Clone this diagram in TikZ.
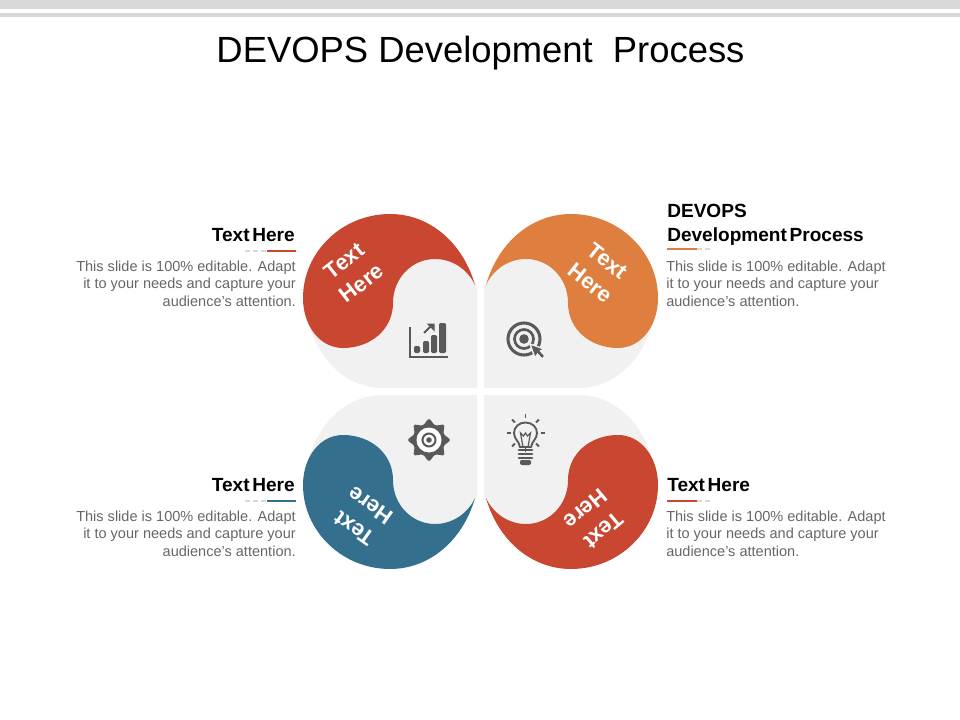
\documentclass[tikz,border=0pt]{standalone}
\usepackage{fontspec}
\setmainfont{Liberation Sans}
\usepackage{tikz}
\definecolor{petalred}{HTML}{C94631}
\definecolor{petalorange}{HTML}{DE7F3F}
\definecolor{petalblue}{HTML}{34708D}
\definecolor{petalgrey}{HTML}{F1F1F1}
\definecolor{bargrey}{HTML}{D9D9D9}
\definecolor{icongrey}{HTML}{595959}
\definecolor{bodygrey}{HTML}{666666}
\newfontfamily\headfont[WordSpace=0.5]{Liberation Sans}
\newcommand{\petalpath}{(475,285) .. controls (463,243) and (430,214) .. (390,214)
  .. controls (342,214) and (303,252) .. (303,298)
  .. controls (303,326) and (320,348) .. (343,348)
  .. controls (370,348) and (393,330) .. (393,303)
  .. controls (393,278) and (412,259) .. (435,259)
  .. controls (453,259) and (468,270) .. (475,285) -- cycle}
\newcommand{\backpath}{(477,388) -- (477,286) -- (462,262) -- (435,250) -- (350,300) -- (310,328)
  .. controls (322,365) and (350,388) .. (383,388) -- cycle}
\newcommand{\bodytext}{This slide is 100\% editable. Adapt}
\tikzset{
  headlabel/.style={font=\headfont\bfseries\fontsize{14.3}{18}\selectfont, text=black, inner sep=0pt},
  bodylabel/.style={font=\fontsize{10.9}{13.2}\selectfont, text=bodygrey, inner sep=0pt},
  petallabel/.style={font=\bfseries\fontsize{16.5}{21}\selectfont, text=white, align=center, inner sep=0pt},
  iconline/.style={draw=icongrey, line width=1.5pt},
  dashrule/.style={draw=bargrey, line width=0.8pt, dash pattern=on 4pt off 2pt},
  colorrule/.style={line width=0.8pt}
}
\begin{document}
\begin{tikzpicture}[x=0.75pt, y=-0.75pt]
  \useasboundingbox (0,0) rectangle (960,720);
  % bars at the top
  \fill [bargrey] (0,0) rectangle (960,9);
  \fill [bargrey] (0,13) rectangle (960,17);
  \node (title) at (480.5,63) [anchor=base, inner sep=0pt, font=\fontsize{27.3}{32}\selectfont] {DEVOPS Development~ Process};
  % four petals
  \fill [petalgrey] \backpath;
  \fill [petalred] \petalpath;
  \begin{scope}[shift={(961,0)}, xscale=-1]
    \fill [petalgrey] \backpath;
    \fill [petalorange] \petalpath;
  \end{scope}
  \begin{scope}[shift={(0,783)}, yscale=-1]
    \fill [petalgrey] \backpath;
    \fill [petalblue] \petalpath;
  \end{scope}
  \begin{scope}[shift={(961,783)}, xscale=-1, yscale=-1]
    \fill [petalgrey] \backpath;
    \fill [petalred] \petalpath;
  \end{scope}
  \node (tl) at (353,272) [petallabel, rotate=38] {Text\\Here};
  \node (tr) at (599,272) [petallabel, rotate=-38] {Text\\Here};
  \node (bl) at (362,517) [petallabel, rotate=145] {Text\\Here};
  \node (br) at (595,520) [petallabel, rotate=220] {Text\\Here};
  % left labels
  \node (headtl) at (295,241.5) [headlabel, anchor=base east] {Text Here};
  \node (bodytl) at (296,260.4) [bodylabel, anchor=north east, align=right] {\bodytext\\it to your needs and capture your\\audience's attention.};
  \draw [dashrule] (245,251) -- (267,251);
  \draw [colorrule, draw=petalred] (267,251) -- (296,251);
  \node (headbl) at (295,491.5) [headlabel, anchor=base east] {Text Here};
  \node (bodybl) at (296,510.4) [bodylabel, anchor=north east, align=right] {\bodytext\\it to your needs and capture your\\audience's attention.};
  \draw [dashrule] (245,501) -- (267,501);
  \draw [colorrule, draw=petalblue] (267,501) -- (296,501);
  % right labels
  \node (headtr) at (667,245.5) [headlabel, anchor=south west, align=left] {DEVOPS\\Development Process};
  \node (bodytr) at (666,260.4) [bodylabel, anchor=north west, align=left] {\bodytext\\it to your needs and capture your\\audience's attention.};
  \draw [colorrule, draw=petalorange] (667,249) -- (697,249);
  \draw [dashrule] (697,249) -- (712,249);
  \node (headbr) at (667,491.5) [headlabel, anchor=base west] {Text Here};
  \node (bodybr) at (666,510.4) [bodylabel, anchor=north west, align=left] {\bodytext\\it to your needs and capture your\\audience's attention.};
  \draw [colorrule, draw=petalred] (667,501) -- (697,501);
  \draw [dashrule] (697,501) -- (712,501);
  % chart icon
  \draw [iconline] (410,327) -- (410,357) -- (448,357);
  \foreach \xa/\xb/\ytop in {414/420/346, 423/429/341, 431/437/335, 439/446/323}
    \fill [icongrey, rounded corners=1pt] (\xa,\ytop) rectangle (\xb,353);
  \draw [iconline] (424,333) -- (431,326);
  \fill [icongrey] (426.5,323.5) -- (434.5,323.5) -- (434.5,331.5) -- cycle;
  % target icon
  \draw [icongrey, line width=2.3pt] (524,339) circle [radius=16];
  \draw [icongrey, line width=2pt] (524,339) circle [radius=9.5];
  \fill [icongrey] (524,339) circle [radius=4.8];
  \fill [icongrey, draw=petalgrey, line width=1pt] (530,344) -- (544,349) -- (540.5,351) -- (545,356) -- (542,359) -- (537.5,354) -- (535,358) -- cycle;
  % gear icon
  \fill [icongrey, rounded corners=1.2pt] (451,440)
    \foreach \k in {1,...,15} {
      -- ({429+(mod(\k,2)==0 ? 22 : 15.5)*cos(22.5*\k)}, {440+(mod(\k,2)==0 ? 22 : 15.5)*sin(22.5*\k)})
    } -- cycle;
  \fill [white] (429,440) circle [radius=12.5];
  \draw [icongrey, line width=1.5pt] (429,440) circle [radius=6.5];
  \fill [icongrey] (429,440) circle [radius=2.8];
  % bulb icon
  \draw [iconline, line width=1.4pt] (520,447) .. controls (519,441) and (514,439) .. (514,433)
    .. controls (514,427) and (519,422.5) .. (525.5,422.5)
    .. controls (532,422.5) and (537,427) .. (537,433)
    .. controls (537,439) and (532,441) .. (531,447) -- cycle;
  \draw [iconline, line width=0.9pt] (523,447) -- (520.5,433) -- (523.5,436) -- (525.5,433) -- (527.5,436) -- (530.5,433) -- (528,447);
  \foreach \ang in {180,225,270,315,0,135,45,90}
    \draw [iconline, line width=1.4pt] ({525.5+15*cos(\ang)},{433-15*sin(\ang)}) -- ({525.5+19*cos(\ang)},{433-19*sin(\ang)});
  \foreach \ybar in {450,454,458}
    \draw [iconline, line width=2.1pt, line cap=round] (519,\ybar) -- (532,\ybar);
  \fill [icongrey, rounded corners=1pt] (520,460) rectangle (531,465);
\end{tikzpicture}
\end{document}
